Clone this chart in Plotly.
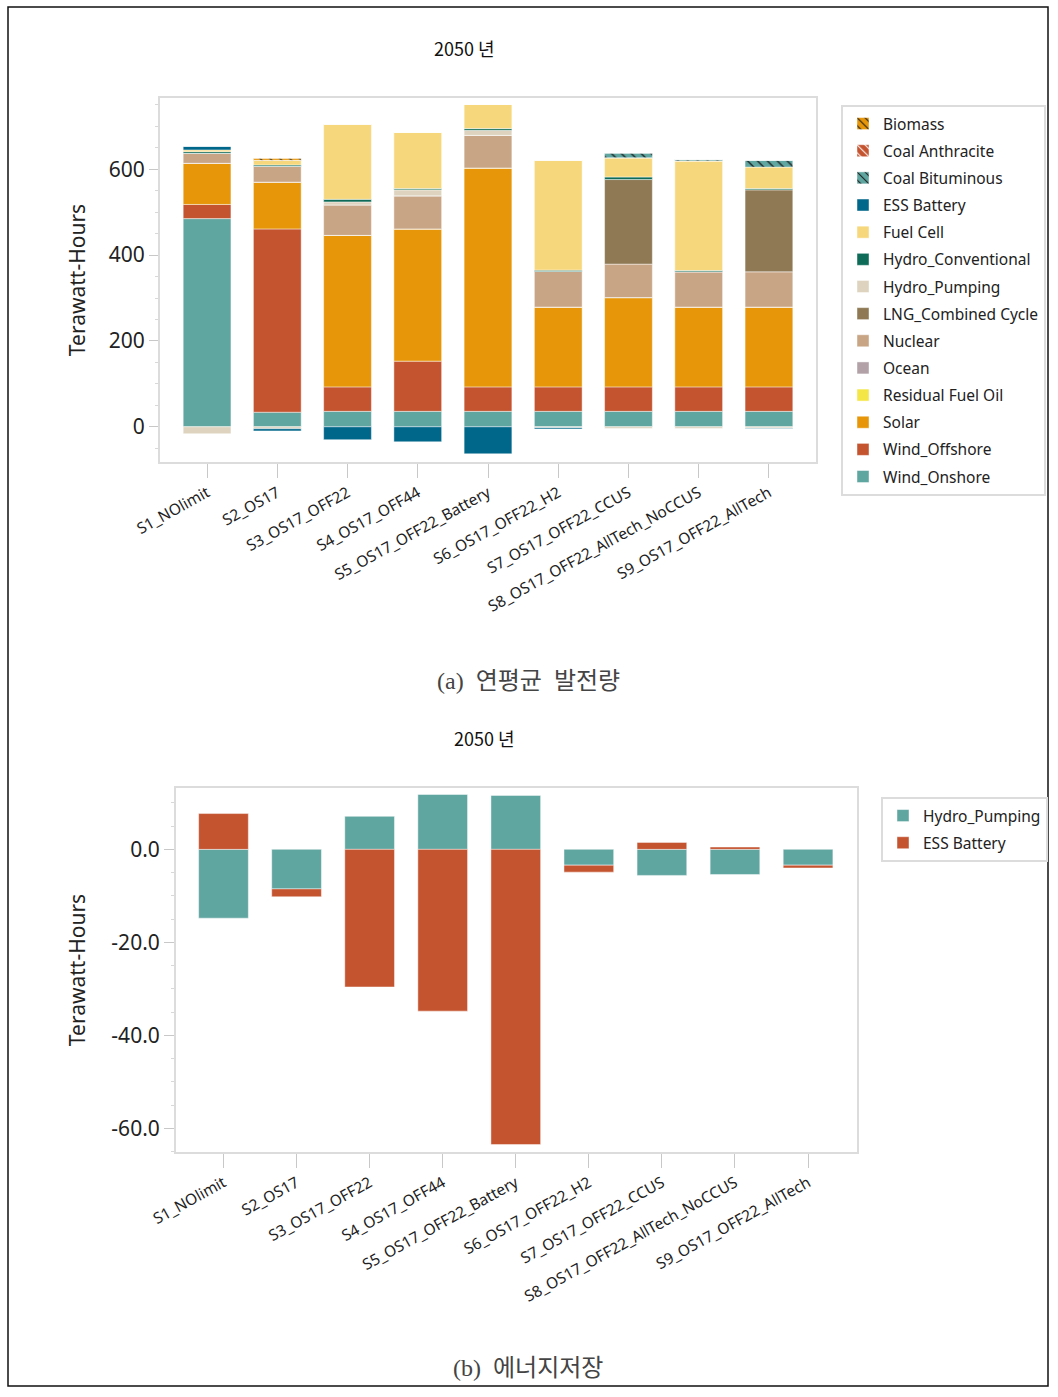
import plotly.graph_objects as go

W, H = 1058, 1397

scenarios = ["S1_NOlimit", "S2_OS17", "S3_OS17_OFF22", "S4_OS17_OFF44", "S5_OS17_OFF22_Battery",
             "S6_OS17_OFF22_H2", "S7_OS17_OFF22_CCUS", "S8_OS17_OFF22_AllTech_NoCCUS", "S9_OS17_OFF22_AllTech"]

# (a) annual generation, TWh (stack order bottom -> top)
wind_onshore = [485, 34, 36, 36, 36, 36, 36, 36, 36]
wind_offshore = [33, 427, 57, 117, 57, 57, 57, 57, 57]
solar = [96, 109, 353, 308, 510, 186, 208, 186, 186]
residual_fuel_oil = [0, 0, 0, 0, 0, 0, 0, 0, 0]
ocean = [0, 0, 0, 0, 0, 0, 0, 0, 0]
nuclear = [23, 37, 71, 77, 76, 83, 78, 82, 82]
lng_cc = [0, 0, 0, 0, 0, 0, 197, 0, 191]
hydro_pumping = [-16, -4.5, 7, 14, 12, -2, -4, -4, -3]
hydro_conv = [4, 3, 6, 3, 4, 3, 6, 3, 3]
fuel_cell = [4, 11, 175, 131, 56, 256, 44, 255, 50]
ess_battery = [9, -5, -30, -35, -63, -3, 1, 0.5, -1]
coal_bituminous = [0, 0, 0, 0, 0, 0, 11, 3, 16]
coal_anthracite = [0, 0, 0, 0, 0, 0, 0, 0, 0]
biomass = [0, 4, 0, 0, 0, 0, 0, 0, 0]

# (b) energy storage, TWh
storage_hydro_pumping = [-14.8, -8.5, 7.1, 11.8, 11.6, -3.4, -5.6, -5.4, -3.4]
storage_ess_battery = [7.7, -1.7, -29.6, -34.8, -63.5, -1.5, 1.5, 0.5, -0.6]

top_yticks = [0, 200, 400, 600]
top_yticktext = ["0", "200", "400", "600"]
bot_yticks = [0, -20, -40, -60]
bot_yticktext = ["0.0", "-20.0", "-40.0", "-60.0"]

series = [
    ("Wind_Onshore", wind_onshore, "#5FA5A0", None),
    ("Wind_Offshore", wind_offshore, "#C4532F", None),
    ("Solar", solar, "#E69608", None),
    ("Residual Fuel Oil", residual_fuel_oil, "#F4E647", None),
    ("Ocean", ocean, "#B2A2A8", None),
    ("Nuclear", nuclear, "#C8A585", None),
    ("LNG_Combined Cycle", lng_cc, "#8E7954", None),
    ("Hydro_Pumping", hydro_pumping, "#DDD3BE", None),
    ("Hydro_Conventional", hydro_conv, "#0E6B58", None),
    ("Fuel Cell", fuel_cell, "#F7D77C", None),
    ("ESS Battery", ess_battery, "#00668A", None),
    ("Coal Bituminous", coal_bituminous, "#5FA5A0", "#1a1a1a"),
    ("Coal Anthracite", coal_anthracite, "#C4532F", "#FFFFFF"),
    ("Biomass", biomass, "#E69608", "#1a1a1a"),
]

FONT = "Noto Sans, Open Sans, sans-serif"
KFONT = "Noto Sans CJK KR, Noto Sans, sans-serif"

fig = go.Figure()
n = len(series)
for i, (name, vals, color, hatch) in enumerate(series):
    marker = dict(color=color, line=dict(color="rgba(255,255,255,0.45)", width=1))
    if hatch:
        marker["pattern"] = dict(shape="\\", fillmode="replace", bgcolor=color, fgcolor=hatch,
                                 size=7, solidity=0.18)
    fig.add_trace(go.Bar(x=scenarios, y=vals, name=name, marker=marker,
                         legendgroup=name, legendrank=100 + (n - i),
                         xaxis="x", yaxis="y", legend="legend"))

for i, (name, vals, color) in enumerate([("Hydro_Pumping", storage_hydro_pumping, "#5FA5A0"),
                                         ("ESS Battery", storage_ess_battery, "#C4532F")]):
    fig.add_trace(go.Bar(x=scenarios, y=vals, name=name,
                         marker=dict(color=color, line=dict(color="rgba(255,255,255,0.45)", width=1)),
                         legendgroup="b_" + name, legendrank=10 + i,
                         xaxis="x2", yaxis="y2", legend="legend2"))

def px_x(p):
    return p / W

def px_y(p):
    return 1 - p / H

axis_common = dict(showline=True, mirror=True, linecolor="#DCDCDC", linewidth=2,
                   showgrid=False, zeroline=False)

def note(text, x, y, size, family, color):
    return dict(text=text, x=px_x(x), y=px_y(y), xref="paper", yref="paper",
                xanchor="center", yanchor="middle", showarrow=False,
                font=dict(size=size, family=family, color=color))

NB = "\u00a0"
fig.update_layout(
    width=W, height=H, margin=dict(l=0, r=0, t=0, b=0, autoexpand=False),
    paper_bgcolor="white", plot_bgcolor="white",
    barmode="relative", bargap=0.32,
    font=dict(family=FONT, color="#222"),
    xaxis=dict(domain=[px_x(160), px_x(816)], anchor="y", range=[-0.67, 8.67],
               ticks="outside", ticklen=14, tickcolor="#C8C8C8", tickangle=-29,
               tickfont=dict(size=15.5, family=FONT), **axis_common),
    yaxis=dict(domain=[px_y(462), px_y(98)], anchor="x", range=[-82, 766],
               tickvals=top_yticks, ticktext=top_yticktext,
               ticks="outside", ticklen=9, tickcolor="#C8C8C8",
               minor=dict(dtick=50, ticks="outside", ticklen=3, tickcolor="#D8D8D8"),
               tickfont=dict(size=21, family=FONT),
               title=dict(text="Terawatt-Hours", font=dict(size=21, family=FONT), standoff=17),
               **axis_common),
    xaxis2=dict(domain=[px_x(176), px_x(857)], anchor="y2", range=[-0.65, 8.67],
                ticks="outside", ticklen=14, tickcolor="#C8C8C8", tickangle=-29,
                tickfont=dict(size=15.5, family=FONT), **axis_common),
    yaxis2=dict(domain=[px_y(1152), px_y(788)], anchor="x2", range=[-65.1, 13.2],
                tickvals=bot_yticks, ticktext=bot_yticktext,
                ticks="outside", ticklen=10, tickcolor="#C8C8C8",
                minor=dict(dtick=5, ticks="outside", ticklen=3, tickcolor="#D8D8D8"),
                tickfont=dict(size=21, family=FONT),
                title=dict(text="Terawatt-Hours", font=dict(size=21, family=FONT), standoff=20),
                **axis_common),
    legend=dict(x=px_x(841), y=px_y(105), xanchor="left", yanchor="top",
                traceorder="grouped", tracegroupgap=4,
                bgcolor="white", bordercolor="#DCDCDC", borderwidth=2,
                font=dict(size=15.5, family=FONT, color="#222")),
    legend2=dict(x=px_x(881), y=px_y(797), xanchor="left", yanchor="top",
                 traceorder="grouped", tracegroupgap=4,
                 bgcolor="white", bordercolor="#DCDCDC", borderwidth=2,
                 font=dict(size=15.5, family=FONT, color="#222")),
    annotations=[
        note("2050 년", 464, 48, 18, KFONT, "#111"),
        note("2050 년", 484, 738, 18, KFONT, "#111"),
        note("(a)" + NB * 2 + "연평균" + NB * 2 + "발전량", 528, 681, 24,
             "Liberation Serif, " + KFONT, "#444"),
        note("(b)" + NB * 2 + "에너지저장", 528, 1368, 24, "Liberation Serif, " + KFONT, "#444"),
    ],
    shapes=[dict(type="rect", xref="paper", yref="paper",
                 x0=px_x(8), x1=px_x(1048), y0=px_y(1386), y1=px_y(7),
                 line=dict(color="#111", width=1.5), fillcolor="rgba(0,0,0,0)", layer="below")],
)

fig.write_html("out.html")
